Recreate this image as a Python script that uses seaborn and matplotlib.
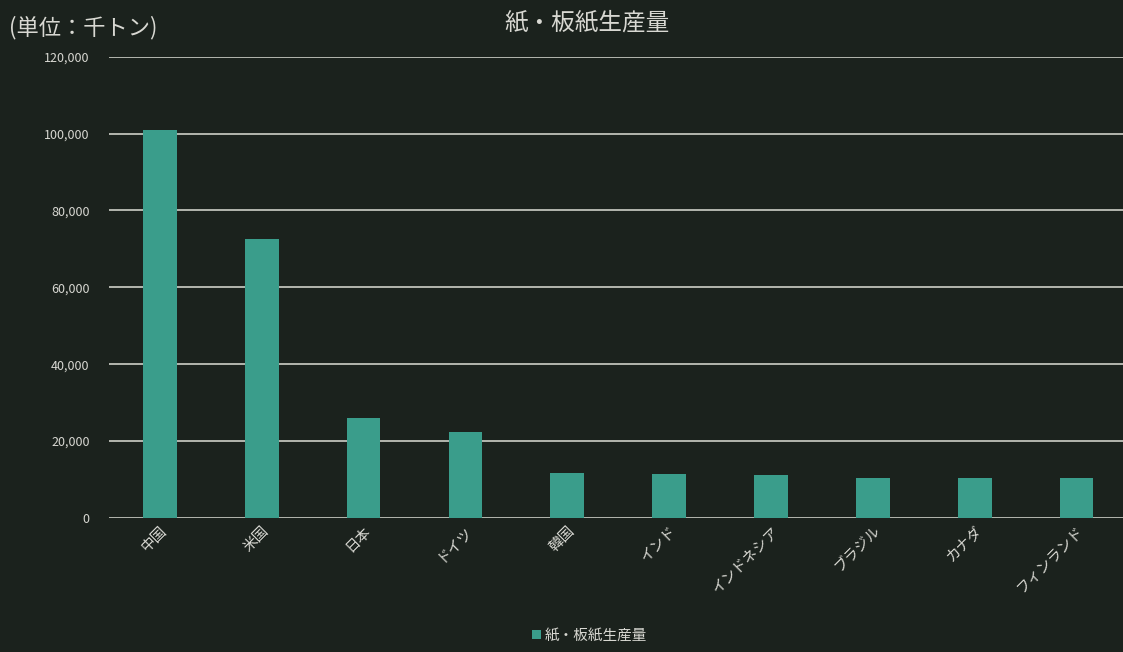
import matplotlib
matplotlib.use("Agg")
import matplotlib.pyplot as plt
import seaborn as sns
import pandas as pd

countries = ["中国", "米国", "日本", "ドイツ", "韓国", "インド", "インドネシア", "ブラジル", "カナダ", "フィンランド"]
production = [101000, 72500, 26000, 22500, 11700, 11500, 11200, 10500, 10400, 10400]
yticks = [0, 20000, 40000, 60000, 80000, 100000, 120000]
series_name = "紙・板紙生産量"

bg = "#1b221d"
bar_color = "#3a9d8b"
text_color = "#d8d8d2"
grid_color = "#bfc2ba"

sns.set_theme(style="dark")
plt.rcParams['font.family'] = ['Noto Sans CJK JP', 'DejaVu Sans']

fig = plt.figure(figsize=(11.23, 6.52), dpi=100, facecolor=bg)
ax = fig.add_axes([0.097, 0.2055, 0.907, 0.7075])
ax.set_facecolor(bg)

df = pd.DataFrame({"country": countries, "value": production})
sns.barplot(data=df, x="country", y="value", color=bar_color, width=0.33,
            saturation=1, label=series_name, ax=ax, zorder=3,
            edgecolor="none", linewidth=0)

ax.set_ylim(0, 120000)
ax.set_xlim(-0.5, 9.5)
ax.set_yticks(yticks)
ax.set_yticklabels([f"{v:,}" for v in yticks], fontsize=9, color=text_color)
ax.yaxis.grid(True, color=grid_color, linewidth=1.3, zorder=0)
ax.xaxis.grid(False)
ax.tick_params(axis="y", length=0, pad=14)
ax.tick_params(axis="x", length=0, pad=4)
plt.setp(ax.get_xticklabels(), rotation=45, ha="right", rotation_mode="anchor",
         fontsize=10.5, color=text_color)
ax.set_xlabel("")
ax.set_ylabel("")
for s in ax.spines.values():
    s.set_visible(False)

fig.text(0.523, 0.965, series_name, ha="center", va="center", fontsize=17, color=text_color)
fig.text(0.008, 0.957, "(単位：千トン)", ha="left", va="center", fontsize=16, color=text_color)

leg = ax.legend(loc="center", bbox_to_anchor=(0.525, 0.025), bbox_transform=fig.transFigure,
                frameon=False, fontsize=10.5, handlelength=0.6, handleheight=0.6,
                handletextpad=0.3, labelcolor=text_color)

fig.savefig("out.png", dpi=100, facecolor=bg)
